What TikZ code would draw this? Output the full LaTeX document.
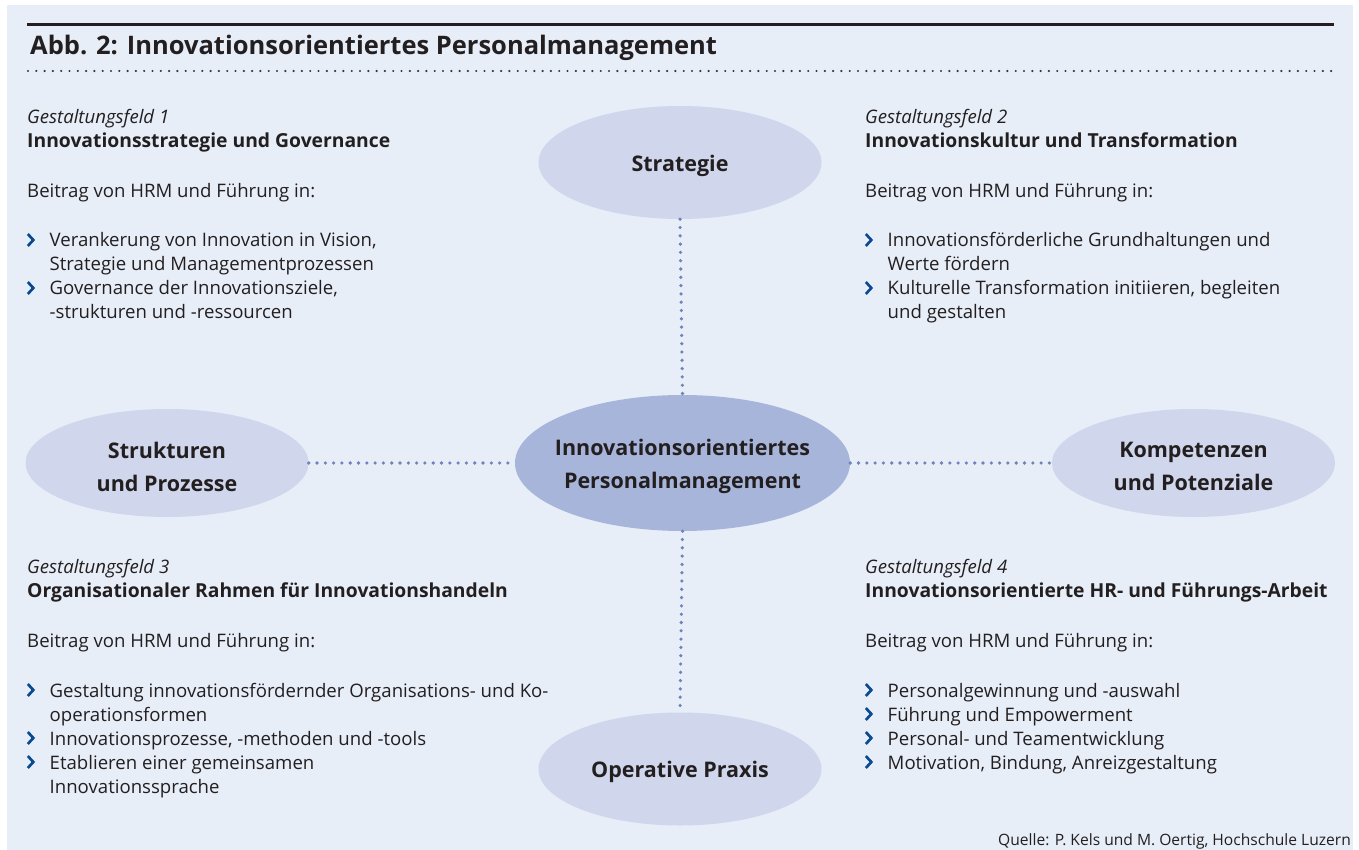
\documentclass[tikz,border=0pt]{standalone}
\usepackage{fontspec}
\setmainfont{Open Sans}
\usetikzlibrary{shapes.geometric}
\definecolor{bgc}{HTML}{E7EEF8}
\definecolor{txtc}{HTML}{231F20}
\definecolor{outerc}{HTML}{D0D6EC}
\definecolor{innerc}{HTML}{A7B5DA}
\definecolor{dotc}{HTML}{6E84B9}
\definecolor{bulc}{HTML}{0B4A90}
\newcommand\bitem[1]{\par\hangindent=22.5pt\hangafter=1\noindent\hspace*{22.5pt}#1\par}
\newcommand\blocktext[1]{\parbox[t]{700pt}{\raggedright\fontsize{18.6}{24}\selectfont #1}}
\newcommand\headb[1]{{\fontsize{19.3}{24}\selectfont\bfseries #1}}
\begin{document}
\begin{tikzpicture}[x=1pt,y=-1pt,
  ell/.style={ellipse, inner sep=0pt},
  outerell/.style={ell, fill=outerc, minimum width=283pt, minimum height=113pt},
  innerell/.style={ell, fill=innerc, minimum width=335pt, minimum height=136pt},
  elltext/.style={inner sep=0pt, text=txtc, align=center,
    font=\fontsize{21.5}{33}\selectfont\bfseries},
  conn/.style={draw=dotc, line width=3.6pt, line cap=round, dash pattern=on 0pt off 8.3pt},
  block/.style={anchor=base west, inner sep=0pt, text=txtc},
  chev/.pic={\draw[bulc, line width=2.7pt, line join=miter] (0.8,-13) -- (6.3,-7) -- (0.8,-1);},
  ]
\useasboundingbox (0,0) rectangle (1359,850);
\fill[bgc] (7,5) rectangle (1353,850);
% header
\coordinate (rulel) at (27,24.5);
\coordinate (ruler) at (1334,24.5);
\draw[txtc, line width=2.8pt] (rulel) -- (ruler);
\node[anchor=base west, inner sep=0pt, text=txtc, font=\fontsize{25.5}{28}\selectfont\bfseries] (title) at (30,55)
  {Abb. 2: Innovationsorientiertes Personalmanagement};
\coordinate (dotl) at (28,71);
\coordinate (dotr) at (1335,71);
\draw[txtc!90, line width=2.4pt, line cap=round, dash pattern=on 0pt off 8.3pt] (dotl) -- (dotr);
% ellipses
\node[outerell] (strat) at (680,162.5) {};
\node[innerell] (center) at (682.5,463) {};
\node[outerell, minimum height=108pt] (struk) at (167,463) {};
\node[outerell, minimum height=108pt] (komp) at (1193.5,463) {};
\node[outerell] (oper) at (680,769) {};
% ellipse labels
\node[elltext] (stratlbl) at (680,165.5) {Strategie};
\node[elltext] (centerlbl) at (682.5,466.5) {Innovationsorientiertes\\Personalmanagement};
\node[elltext] (struklbl) at (167,466.5) {Strukturen\\und Prozesse};
\node[elltext] (komplbl) at (1193.5,466.5) {Kompetenzen\\und Potenziale};
\node[elltext] (operlbl) at (680,771.5) {Operative Praxis};
% connectors
\draw[conn] (strat.south) -- (center.north);
\draw[conn] (center.south) -- (oper.north);
\draw[conn] (struk.east) -- (center.west);
\draw[conn] (center.east) -- (komp.west);
% text blocks
\node[block] (f1) at (27,124) {\blocktext{%
{\itshape Gestaltungsfeld 1}\\
\headb{Innovationsstrategie und Governance}\\[26pt]
Beitrag von HRM und Führung in:\\[25pt]
\bitem{Verankerung von Innovation in Vision,\newline Strategie und Managementprozessen}
\bitem{Governance der Innovationsziele,\newline -strukturen und -ressourcen}}};
\node[block] (f2) at (865,124) {\blocktext{%
{\itshape Gestaltungsfeld 2}\\
\headb{Innovationskultur und Transformation}\\[26pt]
Beitrag von HRM und Führung in:\\[25pt]
\bitem{Innovationsförderliche Grundhaltungen und\newline Werte fördern}
\bitem{Kulturelle Transformation initiieren, begleiten\newline und gestalten}}};
\node[block] (f3) at (27,573) {\blocktext{%
{\itshape Gestaltungsfeld 3}\\
\headb{Organisationaler Rahmen für Innovationshandeln}\\[26pt]
Beitrag von HRM und Führung in:\\[26pt]
\bitem{Gestaltung innovationsfördernder Organisations- und Ko-\newline operationsformen}
\bitem{Innovationsprozesse, -methoden und -tools}
\bitem{Etablieren einer gemeinsamen\newline Innovationssprache}}};
\node[block] (f4) at (865,573) {\blocktext{%
{\itshape Gestaltungsfeld 4}\\
\headb{Innovationsorientierte HR- und Führungs-Arbeit}\\[26pt]
Beitrag von HRM und Führung in:\\[26pt]
\bitem{Personalgewinnung und -auswahl}
\bitem{Führung und Empowerment}
\bitem{Personal- und Teamentwicklung}
\bitem{Motivation, Bindung, Anreizgestaltung}}};
% bullet marks
\foreach \y in {247,295} {\pic at (27,\y) {chev}; \pic at (865,\y) {chev};}
\foreach \y in {697,745,769} {\pic at (27,\y) {chev};}
\foreach \y in {697,721,745,769} {\pic at (865,\y) {chev};}
% source
\node[anchor=base east, inner sep=0pt, text=txtc, font=\fontsize{15.6}{18}\selectfont] (src) at (1351,845)
  {Quelle: P. Kels und M. Oertig, Hochschule Luzern};
\end{tikzpicture}
\end{document}
